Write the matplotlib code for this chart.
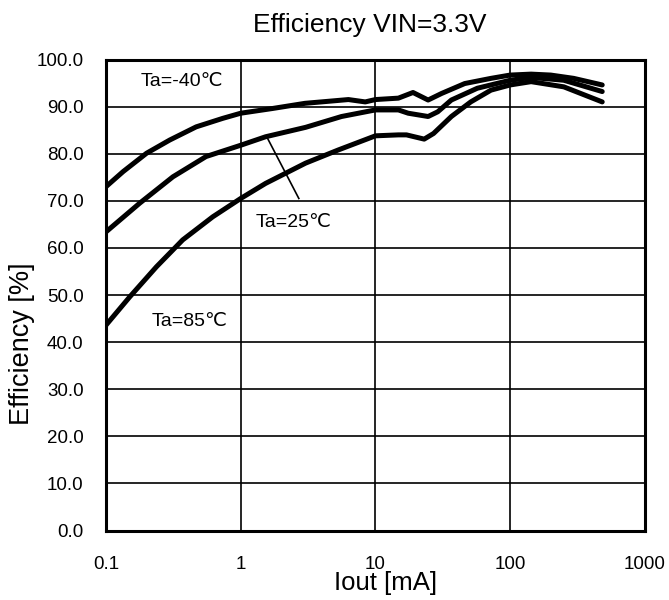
import matplotlib
matplotlib.use("Agg")
import matplotlib.pyplot as plt

plt.rcParams['font.family'] = ['Liberation Sans', 'DejaVu Sans']

x_m40 = [0.1, 0.134, 0.2, 0.297, 0.467, 0.734, 1.0, 1.72, 3.0, 6.3, 8.4, 10, 14.8, 19, 24.6, 31, 46, 72, 100, 143, 200, 296, 482]
y_m40 = [73.0, 76.2, 80.1, 82.9, 85.7, 87.5, 88.6, 89.6, 90.7, 91.5, 91.0, 91.5, 91.8, 93.0, 91.4, 92.8, 94.9, 96.0, 96.7, 96.9, 96.7, 96.0, 94.6]

x_25 = [0.1, 0.178, 0.314, 0.553, 1.0, 1.53, 3.03, 5.6, 10, 14.8, 17.5, 24.6, 29, 36.6, 57, 100, 143, 250, 482]
y_25 = [63.4, 69.5, 75.1, 79.4, 81.8, 83.6, 85.6, 87.9, 89.3, 89.3, 88.6, 87.9, 88.9, 91.4, 93.9, 95.6, 96.2, 95.6, 93.2]

x_85 = [0.1, 0.150, 0.237, 0.371, 0.62, 1.0, 1.53, 3.03, 5.3, 10, 14.8, 17, 23, 27, 36.6, 51, 72, 100, 143, 250, 482]
y_85 = [43.6, 49.6, 56.0, 61.7, 66.6, 70.5, 73.7, 78.0, 80.8, 83.8, 84.0, 84.0, 83.1, 84.3, 87.9, 91.0, 93.5, 94.6, 95.3, 94.2, 91.0]

x_ticks = [0.1, 1, 10, 100, 1000]
x_ticklabels = ["0.1", "1", "10", "100", "1000"]
y_ticks = [0, 10, 20, 30, 40, 50, 60, 70, 80, 90, 100]
y_ticklabels = ["%.1f" % v for v in y_ticks]

fig = plt.figure(figsize=(6.69, 6.0), dpi=100)
ax = fig.add_axes([0.1584, 0.1158, 0.964 - 0.1584, 0.9008 - 0.1158])

for xs, ys in [(x_m40, y_m40), (x_25, y_25), (x_85, y_85)]:
    ax.plot(xs, ys, color='black', lw=3.6, solid_joinstyle='round', solid_capstyle='round', zorder=3)

ax.set_xscale('log')
ax.set_xlim(0.1, 1000)
ax.set_ylim(0, 100)
ax.set_xticks(x_ticks)
ax.set_xticklabels(x_ticklabels)
ax.minorticks_off()
ax.set_yticks(y_ticks)
ax.set_yticklabels(y_ticklabels)
ax.tick_params(axis='both', length=0, labelsize=13.5)
ax.tick_params(axis='y', pad=16)
ax.tick_params(axis='x', pad=18)
ax.grid(True, color='black', lw=1.2)
for s in ax.spines.values():
    s.set_linewidth(2.2)

ax.set_title("Efficiency VIN=3.3V", fontsize=19, pad=20, x=0.49)
ax.set_xlabel("Iout [mA]", fontsize=18.5, va='center')
ax.xaxis.set_label_coords(0.518, -0.111)
ax.set_ylabel("Efficiency [%]", fontsize=19.5, va='center')
ax.yaxis.set_label_coords(-0.155, 0.397)

ax.text(0.368, 95.3, "Ta=-40℃", fontsize=14, ha='center', va='center')
ax.text(2.48, 65.4, "Ta=25℃", fontsize=14, ha='center', va='center')
ax.text(0.417, 44.3, "Ta=85℃", fontsize=14, ha='center', va='center')
ax.plot([1.58, 2.70], [83.3, 70.5], color='black', lw=1.2, zorder=3)

fig.savefig("out.png", dpi=100)
